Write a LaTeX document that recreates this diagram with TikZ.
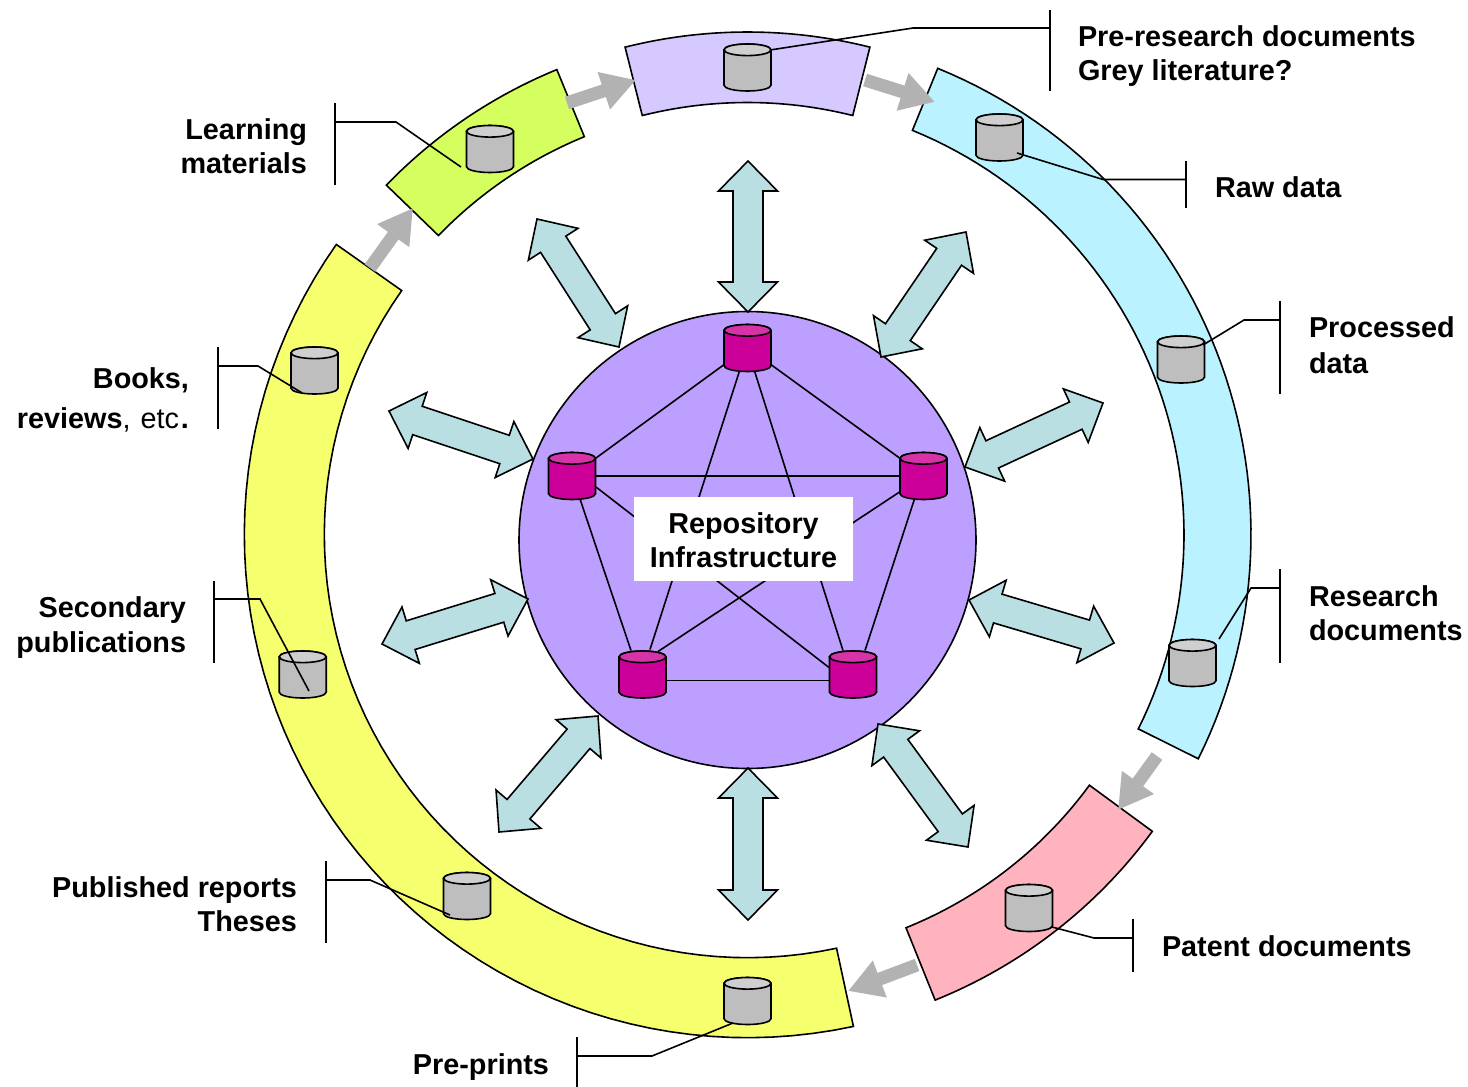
\documentclass[tikz,border=0pt]{standalone}
\usepackage{fontspec}
\setmainfont{Liberation Sans}
\usetikzlibrary{shapes.geometric,arrows.meta}
\definecolor{bandpurple}{HTML}{D6C9FF}
\definecolor{bandblue}{HTML}{BBF2FF}
\definecolor{bandgreen}{HTML}{D5FF5F}
\definecolor{bandpink}{HTML}{FFB3BF}
\definecolor{bandyellow}{HTML}{F6FF6E}
\definecolor{hubpurple}{HTML}{BD9FFF}
\definecolor{teal}{HTML}{B9DFE3}
\definecolor{flowgray}{HTML}{B2B2B2}
\definecolor{cylgray}{HTML}{BEBEBE}
\definecolor{cyltopgray}{HTML}{CFCFCF}
\definecolor{cylmag}{HTML}{CC0099}
\definecolor{cyltopmag}{HTML}{D633A8}
\tikzset{
  every path/.style={line width=0.8pt,line join=miter},
  band/.style={draw=black,fill=#1},
  blockarrow/.style={draw=black,fill=teal},
  flow/.style={draw=flowgray,line width=6.5pt,-{Triangle[length=17pt,width=18.5pt]},shorten >=0pt},
  leader/.style={draw=black},
  label/.style={font=\bfseries\fontsize{14.4}{17}\selectfont,inner sep=0pt,outer sep=0pt},
  leftlabel/.style={label,align=left,anchor=west},
  rightlabel/.style={label,align=right,anchor=east},
  cylbox/.style={rectangle,inner sep=0pt,outer sep=0pt,minimum width=23.5pt,minimum height=23.5pt},
}
\newcommand{\ringband}[5]{% colour, r in, r out, angle from, angle to
  \draw[band=#1] plot[domain=#4:#5,samples=60,variable=\t]
      ({747.5+#3*cos(\t)},{534.5+#3*sin(\t)})
    -- plot[domain=#5:#4,samples=60,variable=\t]
      ({747.5+#2*cos(\t)},{534.5+#2*sin(\t)}) -- cycle;}
\newcommand{\dblarrow}[5]{% name, x1,y1,x2,y2
  \coordinate (#1a) at (#2,#3);
  \coordinate (#1b) at (#4,#5);
  \pgfmathsetmacro\ll{veclen(#4-#2,#5-#3)}
  \pgfmathsetmacro\ux{(#4-#2)/\ll}
  \pgfmathsetmacro\uy{(#5-#3)/\ll}
  \def\pp##1##2{({#2+(##1)*\ux-(##2)*\uy},{#3+(##1)*\uy+(##2)*\ux})}
  \draw[blockarrow] (#1a) -- \pp{30}{29.5} -- \pp{30}{15} -- \pp{\ll-30}{15} -- \pp{\ll-30}{29.5}
    -- (#1b) -- \pp{\ll-30}{-29.5} -- \pp{\ll-30}{-15} -- \pp{30}{-15} -- \pp{30}{-29.5} -- cycle;}
\newcommand{\cylnode}[5]{% name, x, y, body colour, top colour
  \node[cylbox] (#1) at (#2,#3) {};
  \draw[fill=#4] ({#2-23.5},{#3-17.7}) -- ({#2-23.5},{#3+17.7})
     arc[start angle=180,end angle=360,x radius=11.75pt,y radius=2.9pt]
     -- ({#2+23.5},{#3-17.7})
     arc[start angle=0,end angle=180,x radius=11.75pt,y radius=2.9pt] -- cycle;
  \draw[fill=#5] (#2,{#3-17.7}) ellipse[x radius=11.75pt,y radius=2.9pt];}
\begin{document}
\begin{tikzpicture}[x=0.5pt,y=-0.5pt]
\useasboundingbox (0,0) rectangle (1468,1087);
% ring bands
\ringband{bandpurple}{432}{502.5}{-104.1}{-75.9}
\ringband{bandblue}{436.5}{503.5}{-67.8}{26.45}
\ringband{bandpink}{424}{502}{36.25}{68.05}
\ringband{bandyellow}{423.2}{503.2}{77.85}{215.2}
\ringband{bandgreen}{430}{502.5}{224.05}{247.7}
% flow arrows
\coordinate (f1a) at (567,103); \coordinate (f1b) at (636,80);
\coordinate (f2a) at (865,80); \coordinate (f2b) at (935,102);
\coordinate (f3a) at (1157,756); \coordinate (f3b) at (1118,810);
\coordinate (f4a) at (917,965); \coordinate (f4b) at (848,991);
\coordinate (f5a) at (370,268); \coordinate (f5b) at (413,208);
\foreach \f in {f1,f2,f3,f4,f5}{\draw[flow] (\f a) -- (\f b);}
% hub
\node[circle,draw=black,fill=hubpurple,minimum size=228.5pt,inner sep=0pt] (hub) at (747.5,540) {};
% double arrows
\dblarrow{d1}{748}{161}{748}{312}
\dblarrow{d2}{966}{232}{881}{357}
\dblarrow{d3}{1103}{403}{965}{467}
\dblarrow{d4}{969}{600}{1114}{643}
\dblarrow{d5}{878}{724}{968}{847}
\dblarrow{d6}{748}{768}{748}{920}
\dblarrow{d7}{598}{716}{499}{832}
\dblarrow{d8}{528}{599}{382}{644}
\dblarrow{d9}{533}{459}{389}{411}
\dblarrow{d10}{537}{219}{619}{347}
% hub cylinders
\cylnode{ha}{747.5}{348}{cylmag}{cyltopmag}
\cylnode{hb}{923.5}{476}{cylmag}{cyltopmag}
\cylnode{hc}{853}{674.5}{cylmag}{cyltopmag}
\cylnode{hd}{642.5}{674.5}{cylmag}{cyltopmag}
\cylnode{he}{572}{476}{cylmag}{cyltopmag}
\draw ([shift={(-24,17)}]ha.center) -- ([shift={(24,-18)}]he.center);
\draw ([shift={(24,17)}]ha.center) -- ([shift={(-24,-18)}]hb.center);
\draw ([shift={(-8,23)}]ha.center) -- ([shift={(7.5,-25)}]hd.center);
\draw ([shift={(7,23)}]ha.center) -- ([shift={(-10,-24)}]hc.center);
\draw ([shift={(24,0)}]he.center) -- ([shift={(-24,0)}]hb.center);
\draw ([shift={(24,11)}]he.center) -- ([shift={(-24,-7)}]hc.center);
\draw ([shift={(-24,16)}]hb.center) -- ([shift={(15.5,-23)}]hd.center);
\draw ([shift={(8,23)}]he.center) -- ([shift={(-11.5,-24)}]hd.center);
\draw ([shift={(-9,23)}]hb.center) -- ([shift={(12,-24)}]hc.center);
\draw ([shift={(23.5,6)}]hd.center) -- ([shift={(-24,6)}]hc.center);
\node[label,fill=white,align=center,minimum width=109.5pt,minimum height=42pt] (repo) at (743.5,539) {\rule{0pt}{11.4pt}Repository\\Infrastructure};
% storage cylinders
\cylnode{c1}{747.5}{67.5}{cylgray}{cyltopgray}
\cylnode{c2}{999.5}{137.5}{cylgray}{cyltopgray}
\cylnode{c3}{1181}{359.5}{cylgray}{cyltopgray}
\cylnode{c4}{1192.5}{663}{cylgray}{cyltopgray}
\cylnode{c5}{1029}{908}{cylgray}{cyltopgray}
\cylnode{c6}{747.5}{1001}{cylgray}{cyltopgray}
\cylnode{c7}{467}{896}{cylgray}{cyltopgray}
\cylnode{c8}{302.7}{674.5}{cylgray}{cyltopgray}
\cylnode{c9}{314.5}{370.5}{cylgray}{cyltopgray}
\cylnode{c10}{490}{149}{cylgray}{cyltopgray}
% labels
\node[leftlabel] (t1) at (1078,56.5) {Pre-research documents\\Grey literature?};
\node[leftlabel] (t2) at (1215,187) {Raw data};
\node[leftlabel] (t3) at (1309,345) {Processed\\[1pt]data};
\node[leftlabel] (t4) at (1309,613) {Research\\documents};
\node[leftlabel] (t5) at (1162,946) {Patent documents};
\node[rightlabel] (t6) at (549,1067) {Pre-prints};
\node[rightlabel] (t7) at (297,904.5) {Published reports\\Theses};
\node[rightlabel] (t8) at (186,628) {Secondary\\[0.5pt]publications};
\node[rightlabel] (t9) at (189,400) {Books,\\[3pt]reviews{\mdseries,\hspace{1pt} etc\hspace{1pt}}.};
\node[rightlabel] (t10) at (307,146) {Learning\\materials};
% leaders
\draw[leader] (c1.north east) ++(-1,6) -- (913,28) -- (1050,28);
\draw[leader] (1050,10) -- (1050,91);
\draw[leader] (1017,153) -- (1103,179.5) -- (1186,179.5);
\draw[leader] (1186,161) -- (1186,208);
\draw[leader] (1203,345) -- (1244,320) -- (1280,320);
\draw[leader] (1280,301) -- (1280,394);
\draw[leader] (1219,639) -- (1251,588) -- (1280,588);
\draw[leader] (1280,569) -- (1280,663);
\draw[leader] (1052,927) -- (1094,938) -- (1133,938);
\draw[leader] (1133,919) -- (1133,972);
\draw[leader] (733,1023) -- (652,1056) -- (577,1056);
\draw[leader] (577,1037) -- (577,1087);
\draw[leader] (450,915) -- (370,880) -- (326,880);
\draw[leader] (326,861) -- (326,943);
\draw[leader] (309,691) -- (260,599) -- (214,599);
\draw[leader] (214,581) -- (214,663);
\draw[leader] (301.7,392.7) -- (258,366) -- (218,366);
\draw[leader] (218,347) -- (218,429);
\draw[leader] (461,167) -- (396,122) -- (335,122);
\draw[leader] (335,103) -- (335,185);
\end{tikzpicture}
\end{document}
